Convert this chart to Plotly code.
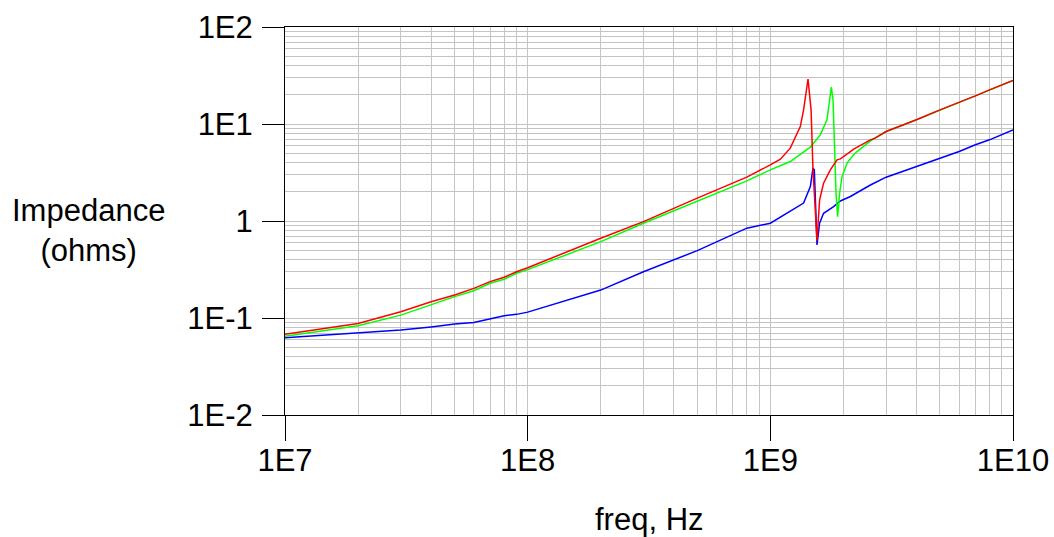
import plotly.graph_objects as go

# ---- data (frequency in Hz, impedance in ohms) ----
red_f = [1e7, 2e7, 3e7, 4e7, 5e7, 6e7, 7e7, 8e7, 9e7, 1e8, 2e8, 3e8, 5e8, 8e8, 1e9,
         1.1e9, 1.208e9, 1.329e9, 1.371e9, 1.407e9, 1.430e9, 1.472e9, 1.490e9, 1.499e9,
         1.557e9, 1.596e9, 1.657e9, 1.767e9, 1.883e9, 1.943e9, 2.137e9, 2.205e9, 2.585e9,
         2.667e9, 3e9, 4e9, 5e9, 6e9, 7e9, 8e9, 1e10]
red_z = [0.068, 0.088, 0.116, 0.147, 0.173, 0.202, 0.237, 0.263, 0.30, 0.33, 0.664, 0.986,
         1.72, 2.83, 3.79, 4.34, 5.64, 9.42, 14.0, 22.5, 29.1, 14.0, 6.35, 3.37,
         0.63, 1.65, 2.45, 3.37, 4.27, 4.37, 5.20, 5.51, 6.87,
         7.04, 8.37, 11.05, 14.0, 16.7, 19.5, 22.5, 28.1]

green_f = [1e7, 2e7, 3e7, 4e7, 5e7, 6e7, 7e7, 8e7, 9e7, 1e8, 2e8, 3e8, 5e8, 8e8, 1e9,
           1.1e9, 1.208e9, 1.462e9, 1.606e9, 1.712e9, 1.755e9, 1.784e9, 1.813e9, 1.835e9,
           1.865e9, 1.893e9, 1.930e9, 1.975e9, 2.071e9, 2.205e9, 2.277e9, 2.585e9,
           2.667e9, 3e9, 4e9, 5e9, 6e9, 7e9, 8e9, 1e10]
green_z = [0.065, 0.083, 0.107, 0.138, 0.166, 0.191, 0.228, 0.251, 0.289, 0.315, 0.613, 0.949,
           1.585, 2.59, 3.37, 3.70, 4.10, 5.78, 7.73, 11.05, 17.8, 24.0, 17.8, 5.86,
           1.94, 1.11, 1.94, 2.87, 3.95, 4.81, 5.20, 6.70,
           7.04, 8.37, 11.05, 14.0, 16.7, 19.5, 22.5, 28.1]

blue_f = [1e7, 2e7, 3e7, 4e7, 5e7, 6e7, 7e7, 8e7, 9e7, 1e8, 2e8, 3e8, 5e8, 8e8, 1e9,
          1.1e9, 1.208e9, 1.371e9, 1.462e9, 1.499e9, 1.518e9, 1.537e9, 1.557e9, 1.596e9,
          1.657e9, 1.823e9, 1.943e9, 2.137e9, 2.585e9, 3e9, 4e9, 5e9, 6e9, 7e9, 8e9, 1e10]
blue_z = [0.0626, 0.0695, 0.0752, 0.081, 0.0867, 0.090, 0.0984, 0.1057, 0.109, 0.115, 0.194,
          0.300, 0.495, 0.843, 0.949, 1.094, 1.25, 1.53, 2.26, 3.51, 3.37, 1.30, 0.567, 0.949,
          1.20, 1.41, 1.61, 1.79, 2.35, 2.83, 3.64, 4.45, 5.20, 6.10, 6.87, 8.71]

x_tickvals = [1e7, 1e8, 1e9, 1e10]
x_ticktext = ["1E7", "1E8", "1E9", "1E10"]
y_tickvals = [1e-2, 1e-1, 1, 1e1, 1e2]
y_ticktext = ["1E-2", "1E-1", "1", "1E1", "1E2"]

x_title = "freq, Hz"
y_title = "Impedance<br>(ohms)"

FONT = "Liberation Sans, Arial, sans-serif"
GRID = "#c4c4c4"

x_minor = [m * 10 ** e for e in range(7, 10) for m in range(2, 10)]
y_minor = [m * 10.0 ** e for e in range(-2, 2) for m in range(2, 10)]

fig = go.Figure()
for f, z, c in [(blue_f, blue_z, "#0000ff"), (green_f, green_z, "#00ff00"), (red_f, red_z, "#ff0000")]:
    fig.add_trace(go.Scatter(x=f, y=z, mode="lines", line=dict(color=c, width=1.5),
                             showlegend=False, hoverinfo="skip"))

fig.update_layout(
    width=1054, height=537,
    margin=dict(l=285, r=41, t=27, b=122, autoexpand=False),
    paper_bgcolor="white", plot_bgcolor="white",
    font=dict(family=FONT, size=31, color="black"),
    showlegend=False,
)
fig.update_xaxes(
    type="log", range=[7, 10], automargin=False,
    tickvals=x_tickvals, ticktext=x_ticktext,
    ticks="outside", ticklen=25, tickcolor="black", tickwidth=1,
    ticklabelstandoff=-7,
    showgrid=True, gridcolor=GRID, gridwidth=1,
    minor=dict(tickvals=x_minor, showgrid=True, gridcolor=GRID, gridwidth=1, ticks=""),
    showline=True, linecolor="black", linewidth=1, mirror=True,
    zeroline=False, tickfont=dict(size=31),
)
fig.update_yaxes(
    type="log", range=[-2, 2], automargin=False,
    tickvals=y_tickvals, ticktext=y_ticktext,
    ticks="outside", ticklen=22, tickcolor="black", tickwidth=1,
    ticklabelstandoff=3,
    showgrid=True, gridcolor=GRID, gridwidth=1,
    minor=dict(tickvals=y_minor, showgrid=True, gridcolor=GRID, gridwidth=1, ticks=""),
    showline=True, linecolor="black", linewidth=1, mirror=True,
    zeroline=False, tickfont=dict(size=31),
)

fig.add_annotation(text=x_title, xref="paper", yref="paper", x=0.5, y=-0.27,
                   xanchor="center", yanchor="middle", showarrow=False,
                   font=dict(family=FONT, size=31, color="black"))
fig.add_annotation(text=y_title, xref="paper", yref="paper", x=-0.27, y=0.475,
                   xanchor="center", yanchor="middle", showarrow=False,
                   font=dict(family=FONT, size=31, color="black"))

fig.write_html(
    "out.html",
    config={"displayModeBar": False},
    post_script="document.body.style.margin='0';document.body.style.overflow='hidden';"
                "document.documentElement.style.overflow='hidden';",
)
